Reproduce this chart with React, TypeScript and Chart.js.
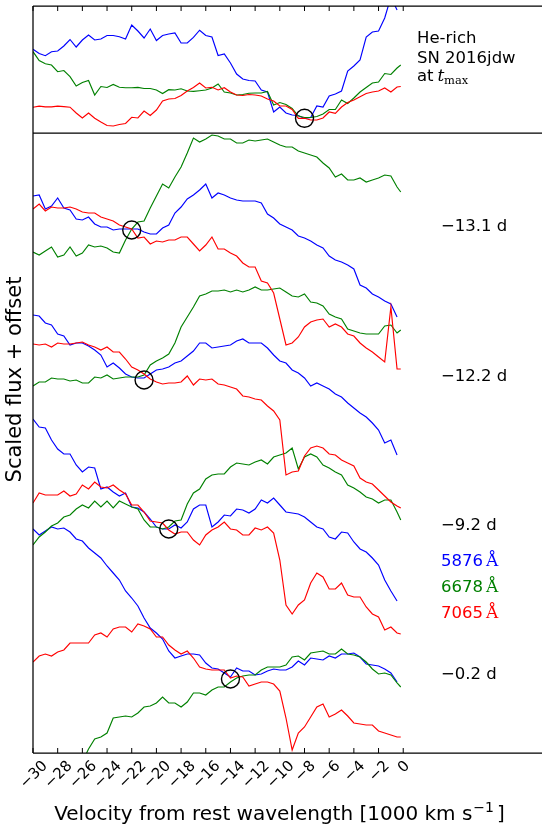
import { useEffect, useRef } from 'react';
import { Chart, registerables } from 'chart.js';
Chart.register(...registerables);

// velocity grid [1000 km/s]
const velocity = [-30, -29.5, -29, -28.5, -28, -27.5, -27, -26.5, -26, -25.5, -25, -24.5, -24, -23.5, -23, -22.5, -22, -21.5, -21, -20.5, -20, -19.5, -19, -18.5, -18, -17.5, -17, -16.5, -16, -15.5, -15, -14.5, -14, -13.5, -13, -12.5, -12, -11.5, -11, -10.5, -10, -9.5, -9, -8.5, -8, -7.5, -7, -6.5, -6, -5.5, -5, -4.5, -4, -3.5, -3, -2.5, -2, -1.5, -1, -0.5, -0.2];
const xTicks = [-30, -28, -26, -24, -22, -20, -18, -16, -14, -12, -10, -8, -6, -4, -2, 0];

// top panel: He-rich SN 2016jdw at t_max
const topBlue = [8.37, 7.95, 7.73, 8.13, 8.2, 8.7, 9.35, 8.6, 9.3, 9.8, 9.3, 9.4, 9.75, 9.75, 9.63, 9.4, 10.8, 10.2, 9.5, 10.4, 9.25, 9.75, 9.9, 10.0, 9.0, 9.0, 9.57, 10.28, 9.75, 9.6, 7.75, 7.9, 7.0, 5.9, 5.4, 5.25, 5.2, 4.3, 4.1, 2.1, 2.6, 2.0, 1.8, 1.75, 1.45, 1.55, 2.7, 2.6, 3.7, 3.9, 4.2, 6.2, 6.7, 7.3, 9.6, 10.1, 10.2, 11.5, 13.6, 12.3, null];
const topGreen = [8.13, 7.25, 6.93, 6.8, 6.13, 6.25, 5.63, 4.7, 5.05, 5.25, 3.8, 4.65, 4.55, 4.85, 4.58, 4.53, 4.53, 4.56, 4.45, 4.45, 4.3, 3.95, 4.33, 4.3, 4.42, 4.2, 4.17, 4.23, 4.3, 4.5, 4.9, 4.1, 4.0, 3.8, 3.85, 3.97, 4.0, 4.0, 4.15, 2.8, 3.05, 2.85, 2.45, 1.7, 1.55, 1.55, 1.65, 1.9, 2.35, 2.35, 3.3, 2.95, 3.5, 4.1, 4.55, 5.0, 5.1, 5.95, 5.85, 6.5, 6.8];
const topRed = [2.57, 2.68, 2.62, 2.62, 2.68, 2.64, 2.58, 2.0, 1.5, 2.0, 1.47, 1.1, 0.75, 0.7, 0.85, 0.95, 1.57, 1.5, 2.2, 1.75, 2.3, 3.2, 3.4, 3.45, 3.75, 4.2, 4.55, 5.0, 4.5, 4.57, 4.3, 4.53, 4.1, 3.8, 3.75, 3.85, 3.8, 3.7, 3.4, 3.2, 2.7, 2.7, 2.35, 1.47, 1.47, 1.3, 1.3, 1.5, 2.1, 1.97, 2.6, 3.05, 3.3, 3.62, 3.95, 4.1, 4.2, 4.5, 4.1, 4.6, 4.65];
const topCircleVel = [-8.0];
const topCircleFlux = [1.47];

// bottom panel, scaled flux + offset
const m131Blue = [55.7, 55.8, 54.4, 54.7, 55.5, 54.5, 54.3, 53.4, 53.3, 53.6, 52.9, 52.6, 52.6, 52.3, 52.4, 52.4, 52.4, 52.4, 52.1, 51.9, 51.9, 52.5, 52.8, 54.0, 54.6, 55.4, 55.8, 56.3, 56.9, 55.5, 56.0, 55.8, 55.5, 55.3, 55.2, 55.2, 55.2, 55.0, 53.9, 53.5, 52.9, 52.6, 52.3, 51.7, 51.5, 51.2, 50.8, 50.5, 49.7, 49.3, 49.1, 48.8, 48.4, 46.8, 46.5, 45.9, 45.6, 45.2, 44.9, 43.6, null];
const m131Green = [50.1, 49.8, 50.2, 50.6, 49.6, 49.8, 50.6, 49.7, 50.0, 50.8, 50.6, 50.7, 50.5, 50.1, 50.0, 51.3, 52.4, 53.1, 53.2, 54.5, 55.7, 56.9, 56.5, 57.6, 58.6, 60.0, 61.5, 61.1, 61.4, 61.8, 61.7, 61.4, 61.4, 61.0, 61.0, 61.3, 61.2, 61.3, 61.4, 61.1, 60.8, 60.6, 60.6, 60.2, 60.0, 59.8, 59.6, 59.0, 58.5, 57.6, 57.9, 57.3, 57.3, 57.5, 57.1, 57.3, 57.5, 57.8, 57.7, 56.6, 56.1];
const m131Red = [54.4, 54.9, 54.2, 54.6, 54.5, 54.5, 54.6, 54.4, 54.1, 54.0, 54.0, 53.6, 53.4, 53.2, 52.8, 52.6, 52.4, 51.5, 51.6, 50.9, 51.2, 51.1, 51.3, 51.3, 51.6, 51.6, 50.9, 50.2, 50.8, 51.6, 50.4, 50.4, 50.0, 49.7, 49.0, 48.6, 48.6, 47.2, 47.0, 46.0, 43.4, 40.8, 41.0, 41.6, 42.6, 43.1, 43.3, 43.4, 42.6, 42.9, 42.6, 41.9, 41.7, 41.0, 40.5, 40.1, 39.6, 39.1, 44.6, 38.4, 38.4];

const m122Blue = [43.8, 43.7, 43.0, 42.8, 41.9, 41.7, 40.8, 41.0, 41.0, 40.7, 40.3, 39.8, 38.6, 39.0, 38.5, 37.9, 37.6, 37.5, 37.5, 37.9, 38.3, 38.4, 38.6, 39.0, 39.2, 39.7, 40.2, 41.0, 41.0, 40.5, 40.6, 40.7, 40.8, 41.2, 41.4, 41.0, 41.0, 41.0, 40.5, 39.8, 39.2, 39.0, 38.3, 38.0, 37.5, 36.7, 37.0, 36.7, 36.4, 35.9, 35.6, 35.0, 34.5, 34.0, 33.6, 33.0, 32.3, 31.0, 31.3, 29.8, null];
const m122Green = [36.7, 37.1, 37.1, 37.5, 37.4, 37.4, 37.2, 37.3, 37.0, 37.0, 37.6, 37.5, 37.8, 37.4, 37.5, 37.6, 37.6, 37.6, 37.8, 38.8, 39.2, 39.5, 39.9, 41.0, 42.6, 43.6, 44.6, 45.7, 45.9, 46.2, 46.2, 46.3, 46.1, 46.3, 46.1, 46.3, 46.6, 46.3, 46.3, 46.4, 46.5, 46.1, 45.7, 45.6, 45.9, 45.1, 45.0, 44.7, 43.9, 43.6, 43.4, 42.4, 42.2, 42.0, 41.9, 41.9, 41.9, 42.7, 42.8, 42.0, 42.3];
const m122Red = [40.9, 40.8, 40.9, 40.6, 41.0, 40.9, 40.9, 41.0, 41.1, 40.8, 40.6, 40.3, 40.6, 40.1, 40.1, 39.4, 38.6, 38.3, 37.9, 37.4, 37.1, 36.9, 37.0, 37.0, 37.1, 37.7, 36.8, 37.4, 37.3, 37.4, 36.9, 36.8, 36.6, 36.4, 35.7, 35.6, 35.4, 35.3, 34.7, 34.2, 33.3, 27.8, 28.1, 28.2, 29.7, 30.5, 30.7, 30.5, 29.9, 29.8, 29.3, 29.0, 28.7, 27.5, 27.1, 26.9, 26.3, 25.7, 25.1, 24.7, 24.5];

const m92Blue = [33.4, 32.6, 32.5, 31.3, 30.4, 29.9, 29.9, 28.8, 28.1, 28.6, 28.5, 26.4, 26.6, 26.1, 25.7, 26.0, 24.6, 24.5, 24.1, 23.4, 22.6, 22.4, 22.4, 22.8, 22.5, 23.1, 24.4, 24.8, 24.8, 22.6, 23.1, 23.8, 23.7, 24.4, 24.3, 24.0, 24.4, 25.3, 25.0, 25.5, 24.8, 24.1, 24.0, 23.9, 23.6, 23.1, 22.6, 22.4, 21.6, 21.4, 22.1, 22.0, 21.1, 20.4, 20.1, 19.5, 18.8, 17.3, 16.2, 15.2, null];
const m92Green = [20.8, 21.6, 22.1, 22.7, 23.0, 23.6, 23.8, 24.4, 24.8, 24.5, 25.2, 24.6, 25.2, 24.5, 25.2, 24.9, 24.6, 24.4, 23.3, 22.6, 22.6, 22.4, 22.6, 23.2, 23.3, 24.9, 26.0, 26.4, 27.4, 27.8, 27.9, 27.9, 28.6, 29.0, 28.9, 28.8, 29.1, 29.3, 28.9, 29.6, 29.8, 30.0, 30.5, 28.4, 29.6, 29.9, 29.6, 28.8, 28.5, 28.1, 27.8, 26.8, 26.5, 26.1, 25.6, 25.4, 25.0, 25.3, 25.3, 24.1, 23.3];
const m92Red = [25.0, 26.0, 25.8, 25.8, 25.8, 26.2, 25.7, 25.9, 26.8, 26.4, 27.1, 26.6, 26.5, 26.8, 26.3, 25.9, 24.8, 24.8, 24.1, 23.2, 23.1, 23.0, 22.3, 21.9, 22.1, 22.1, 21.3, 20.8, 21.8, 22.3, 22.6, 23.1, 22.4, 22.3, 21.8, 21.8, 22.5, 22.3, 22.6, 22.0, 19.3, 14.8, 13.9, 14.8, 15.3, 17.0, 18.0, 17.6, 16.4, 16.4, 17.0, 15.8, 15.6, 15.6, 14.6, 13.9, 13.6, 12.3, 12.6, 12.0, 11.9];

const m02Blue = [22.4, 21.8, 22.2, 22.6, 22.4, 22.5, 22.1, 21.4, 21.2, 20.5, 20.0, 19.5, 18.7, 18.0, 17.3, 16.2, 15.5, 14.7, 13.5, 12.5, 12.0, 11.4, 10.2, 9.5, 9.7, 9.9, 9.9, 9.8, 9.0, 8.5, 8.4, 8.0, 7.6, 8.5, 8.2, 8.2, 7.8, 7.9, 8.2, 8.4, 8.3, 8.3, 8.6, 9.2, 8.8, 9.5, 9.4, 9.3, 9.7, 9.5, 9.9, 9.9, 10.0, 9.6, 8.9, 8.8, 8.7, 8.4, 8.0, 7.1, null];
const m02Green = [null, null, null, null, null, null, null, null, -0.9, 0.4, 1.4, 1.6, 2.0, 3.5, 3.6, 3.7, 3.6, 4.0, 4.6, 4.7, 5.0, 5.6, 5.0, 5.0, 4.6, 5.1, 6.0, 6.0, 5.8, 6.3, 6.6, 6.6, 7.1, 7.5, 7.7, 7.8, 7.8, 8.3, 8.6, 8.6, 8.6, 8.8, 9.6, 9.7, 9.3, 10.0, 10.1, 10.2, 9.9, 9.9, 10.4, 9.9, 9.8, 9.6, 9.1, 8.4, 7.9, 8.0, 7.8, 7.0, 6.6];
const m02Red = [9.1, 9.7, 9.9, 9.7, 10.1, 10.3, 11.0, 11.0, 11.0, 11.0, 11.8, 12.0, 11.6, 12.4, 12.6, 12.6, 12.1, 12.9, 12.7, 12.4, 11.6, 11.6, 10.8, 10.3, 9.9, 10.2, 9.5, 8.6, 8.4, 8.3, 8.3, 8.3, 7.5, 7.7, 7.6, 6.7, 6.9, 7.1, 7.1, 6.9, 6.2, 3.5, 0.3, 2.0, 2.6, 3.6, 4.6, 4.9, 3.6, 3.9, 4.3, 3.7, 3.0, 2.9, 2.8, 2.8, 2.2, 2.0, 1.8, 1.6, 1.6];

const circleVel = [-22.0, -21.0, -19.0, -14.0];
const circleFlux = [52.3, 37.3, 22.4, 7.4];

const epochLabels = ['\u221213.1 d', '\u221212.2 d', '\u22129.2 d', '\u22120.2 d'];
const lineLabels = ['5876', '6678', '7065'];
const topLabels = ['He-rich', 'SN 2016jdw', 'at'];
const xTitle = 'Velocity from rest wavelength [1000 km s';
const yTitle = 'Scaled flux + offset';

const BLUE = '#0000ff';
const GREEN = '#008000';
const RED = '#ff0000';
const SANS = '"DejaVu Sans", sans-serif';

const toXY = (ys: (number | null)[]) =>
  velocity.map((v, i) => ({ x: v, y: ys[i] })).filter((p) => p.y !== null);

const lineDs = (ys: (number | null)[], color: string, order: number) => ({
  data: toXY(ys),
  borderColor: color,
  borderWidth: 1.15,
  pointRadius: 0,
  fill: false,
  tension: 0,
  order,
});

const circleDs = (vs: number[], fs: number[]) => ({
  data: vs.map((v, i) => ({ x: v, y: fs[i] })),
  showLine: false,
  pointRadius: 9,
  pointBorderColor: '#000',
  pointBackgroundColor: 'rgba(0,0,0,0)',
  pointBorderWidth: 1.4,
  borderColor: '#000',
  order: 0,
});

const topFrame = {
  id: 'topFrame',
  afterDraw(chart: any) {
    const { ctx, chartArea: a, scales } = chart;
    const x = scales.x;
    ctx.save();
    ctx.strokeStyle = '#000';
    ctx.lineWidth = 1.25;
    ctx.beginPath();
    ctx.moveTo(a.left, a.top); ctx.lineTo(a.right, a.top);
    ctx.moveTo(a.left, a.bottom); ctx.lineTo(a.right, a.bottom);
    ctx.moveTo(a.left, a.top); ctx.lineTo(a.left, a.bottom);
    ctx.stroke();
    ctx.lineWidth = 1;
    ctx.beginPath();
    for (const t of xTicks) {
      const px = x.getPixelForValue(t);
      ctx.moveTo(px, a.top); ctx.lineTo(px, a.top + 5);
    }
    ctx.stroke();
    ctx.fillStyle = '#000';
    ctx.textAlign = 'left';
    ctx.textBaseline = 'alphabetic';
    ctx.font = `16.5px ${SANS}`;
    ctx.fillText(topLabels[0], 417, 42.5);
    ctx.fillText(topLabels[1], 417, 62.5);
    ctx.fillText(topLabels[2], 417, 80.5);
    ctx.font = 'italic 17px "DejaVu Serif", serif';
    ctx.fillText('t', 437.5, 80.5);
    ctx.font = '11.5px "DejaVu Serif", serif';
    ctx.fillText('max', 444, 84);
    ctx.restore();
  },
};

const bottomFrame = {
  id: 'bottomFrame',
  afterDraw(chart: any) {
    const { ctx, chartArea: a, scales } = chart;
    const x = scales.x;
    const off = 128; // canvas top in page coords
    ctx.save();
    ctx.strokeStyle = '#000';
    ctx.lineWidth = 1.25;
    ctx.beginPath();
    ctx.moveTo(a.left, a.top); ctx.lineTo(a.left, a.bottom);
    ctx.moveTo(a.left, a.bottom); ctx.lineTo(a.right, a.bottom);
    ctx.stroke();
    ctx.lineWidth = 1;
    ctx.beginPath();
    for (const t of xTicks) {
      const px = x.getPixelForValue(t);
      ctx.moveTo(px, a.bottom); ctx.lineTo(px, a.bottom - 5);
    }
    ctx.stroke();

    // tick labels, rotated 45 deg, centred on tick
    ctx.fillStyle = '#000';
    const fs = 15;
    ctx.font = `${fs}px ${SANS}`;
    ctx.textAlign = 'center';
    ctx.textBaseline = 'middle';
    for (const t of xTicks) {
      const label = t < 0 ? '\u2212' + Math.abs(t) : String(t);
      const px = x.getPixelForValue(t);
      const w = ctx.measureText(label).width;
      const H = (w + 0.73 * fs) * Math.SQRT1_2;
      const cy = 760 - off + H / 2;
      ctx.save();
      ctx.translate(px + 1, cy);
      ctx.rotate(-Math.PI / 4);
      ctx.fillText(label, 0, 0);
      ctx.restore();
    }

    // x title
    ctx.textBaseline = 'alphabetic';
    ctx.textAlign = 'left';
    ctx.font = `20px ${SANS}`;
    const wMain = ctx.measureText(xTitle).width;
    ctx.font = `14px ${SANS}`;
    const wSup = ctx.measureText('\u22121').width;
    ctx.font = `20px ${SANS}`;
    const wBr = ctx.measureText(']').width;
    const total = wMain + 1 + wSup + 3 + wBr;
    let sx = 279.5 - total / 2;
    const by = 820 - off;
    ctx.fillText(xTitle, sx, by);
    sx += wMain + 1;
    ctx.font = `14px ${SANS}`;
    ctx.fillText('\u22121', sx, by - 8);
    sx += wSup + 3;
    ctx.font = `20px ${SANS}`;
    ctx.fillText(']', sx, by);

    // y title
    ctx.save();
    ctx.translate(15.5, 379.5 - off);
    ctx.rotate(-Math.PI / 2);
    ctx.textAlign = 'center';
    ctx.textBaseline = 'middle';
    ctx.font = `21px ${SANS}`;
    ctx.fillText(yTitle, 0, 0);
    ctx.restore();

    // epoch labels
    ctx.textAlign = 'left';
    ctx.textBaseline = 'alphabetic';
    ctx.font = `16.5px ${SANS}`;
    ctx.fillStyle = '#000';
    const epochY = [231, 381, 530, 679];
    epochLabels.forEach((s, i) => ctx.fillText(s, 441, epochY[i] - off));

    // line legend
    const lineY = [566, 592, 618];
    const lineC = [BLUE, GREEN, RED];
    lineLabels.forEach((s, i) => {
      ctx.fillStyle = lineC[i];
      ctx.font = `16.5px ${SANS}`;
      ctx.fillText(s, 441, lineY[i] - off);
      const w = ctx.measureText(s).width;
      ctx.font = '17px "DejaVu Serif", serif';
      ctx.fillText('\u00C5', 441 + w + 3, lineY[i] - off);
    });
    ctx.restore();
  },
};

const baseOptions = (ymax: number, padding: any) => ({
  responsive: false,
  animation: false as const,
  devicePixelRatio: 1,
  events: [] as any[],
  layout: { padding, autoPadding: false },
  scales: {
    x: { type: 'linear' as const, min: -30, max: 14, display: false },
    y: { type: 'linear' as const, min: 0, max: ymax, display: false },
  },
  plugins: { legend: { display: false }, tooltip: { enabled: false } },
  elements: { point: { radius: 0 } },
});

export default function App() {
  const topRef = useRef<HTMLCanvasElement>(null);
  const botRef = useRef<HTMLCanvasElement>(null);

  useEffect(() => {
    const top = new Chart(topRef.current as HTMLCanvasElement, {
      type: 'line',
      data: {
        datasets: [
          circleDs(topCircleVel, topCircleFlux),
          lineDs(topRed, RED, 1),
          lineDs(topGreen, GREEN, 2),
          lineDs(topBlue, BLUE, 3),
        ] as any,
      },
      options: baseOptions(12.7, { left: 33, right: 0, top: 6, bottom: 7 }) as any,
      plugins: [topFrame],
    });
    const bot = new Chart(botRef.current as HTMLCanvasElement, {
      type: 'line',
      data: {
        datasets: [
          circleDs(circleVel, circleFlux),
          lineDs(m131Red, RED, 1), lineDs(m131Green, GREEN, 2), lineDs(m131Blue, BLUE, 3),
          lineDs(m122Red, RED, 1), lineDs(m122Green, GREEN, 2), lineDs(m122Blue, BLUE, 3),
          lineDs(m92Red, RED, 1), lineDs(m92Green, GREEN, 2), lineDs(m92Blue, BLUE, 3),
          lineDs(m02Red, RED, 1), lineDs(m02Green, GREEN, 2), lineDs(m02Blue, BLUE, 3),
        ] as any,
      },
      options: baseOptions(62, { left: 33, right: 0, top: 5, bottom: 72 }) as any,
      plugins: [bottomFrame],
    });
    return () => {
      top.destroy();
      bot.destroy();
    };
  }, []);

  return (
    <div style={{ position: 'absolute', left: 0, top: 0, width: 542, height: 825, overflow: 'hidden', background: '#fff' }}>
      <canvas ref={topRef} width={576} height={140} style={{ position: 'absolute', left: 0, top: 0, width: 576, height: 140 }} />
      <canvas ref={botRef} width={576} height={697} style={{ position: 'absolute', left: 0, top: 128, width: 576, height: 697 }} />
    </div>
  );
}
